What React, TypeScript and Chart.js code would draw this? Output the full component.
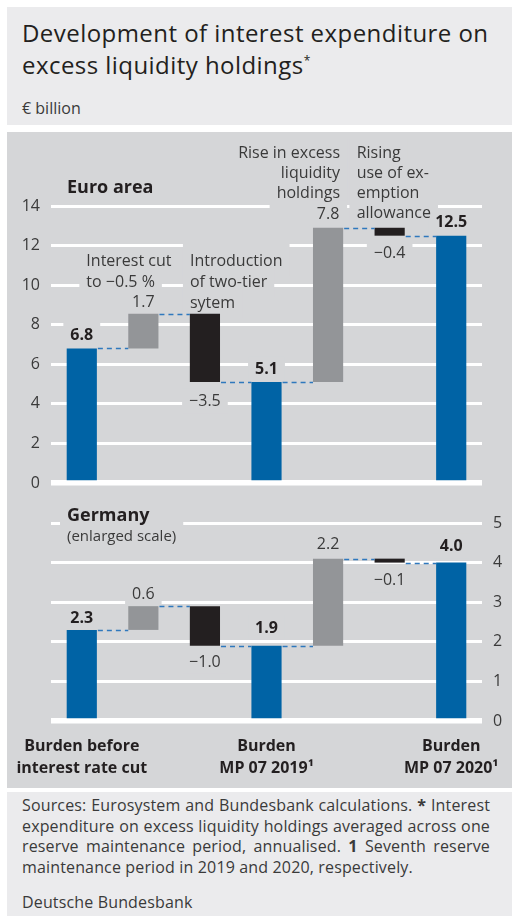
import React, { useEffect, useRef } from 'react';
import { Chart, registerables } from 'chart.js';

Chart.register(...registerables);

// ---------- data ----------
const categories: (string | string[])[] = [
  ['Burden before', 'interest rate cut'],
  '',
  '',
  ['Burden', 'MP 07 2019¹'],
  '',
  '',
  ['Burden', 'MP 07 2020¹'],
];
const barKinds = ['total', 'increase', 'decrease', 'total', 'increase', 'decrease', 'total'];

const euroStart = [0, 6.8, 8.55, 0, 5.1, 12.9, 0];
const euroEnd = [6.8, 8.55, 5.1, 5.1, 12.9, 12.5, 12.5];
const euroLabels = ['6.8', '1.7', '−3.5', '5.1', '7.8', '−0.4', '12.5'];

const germanyStart = [0, 2.3, 2.9, 0, 1.9, 4.1, 0];
const germanyEnd = [2.3, 2.9, 1.9, 1.9, 4.1, 4.0, 4.0];
const germanyLabels = ['2.3', '0.6', '−1.0', '1.9', '2.2', '−0.1', '4.0'];

const euroTickMax = 14;
const euroTickStep = 2;
const germanyTickMax = 5;
const germanyTickStep = 1;

// ---------- style ----------
const FONT = '"Open Sans", "Noto Sans", sans-serif';
const PANEL = '#d5d6d8';
const LIGHT = '#ebebed';
const BLUE = '#0063a5';
const GREY = '#939598';
const BLACK = '#231f20';
const DASH = '#2f78bd';
const TEXT = '#231f20';
const TEXT2 = '#3a3a3a';

const kindColor = (k: string) => (k === 'total' ? BLUE : k === 'increase' ? GREY : BLACK);

type Annot = {
  lines: string[];
  anchor: number | null; // category index or null = chart left
  dx: number;
  dy: number; // first line centre relative to chart top
  lh: number;
  align: 'left' | 'right';
  font: string;
  color: string;
  boxA?: number[];
};

const euroAnnots: Annot[] = [
  { lines: ['Euro area'], anchor: null, dx: 16, dy: -19, lh: 20, align: 'left', font: `bold 18px ${FONT}`, color: TEXT },
  { lines: ['Interest cut', 'to −0.5 %'], anchor: 1, dx: -57, dy: 54, lh: 21, align: 'left', font: `16px ${FONT}`, color: TEXT2 },
  { lines: ['Introduction', 'of two-tier', 'sytem'], anchor: 2, dx: -15, dy: 54, lh: 21, align: 'left', font: `16px ${FONT}`, color: TEXT2, boxA: [17, 13, 13] },
  { lines: ['Rise in excess', 'liquidity', 'holdings'], anchor: 4, dx: 12, dy: -54, lh: 20, align: 'right', font: `16px ${FONT}`, color: TEXT2 },
  { lines: ['Rising', 'use of ex-', 'emption', 'allowance'], anchor: 5, dx: -33, dy: -54, lh: 20, align: 'left', font: `16px ${FONT}`, color: TEXT2 },
];

const germanyAnnots: Annot[] = [
  { lines: ['Germany'], anchor: null, dx: 16, dy: -8, lh: 20, align: 'left', font: `bold 18px ${FONT}`, color: TEXT },
  { lines: ['(enlarged scale)'], anchor: null, dx: 16, dy: 13, lh: 20, align: 'left', font: `15px ${FONT}`, color: TEXT2, boxA: [15] },
];

type TextItem = { text: string; x: number; c: number; align: string; font: string; size: number; color: string; a: number; b: number };

const decorPlugin = {
  id: 'decor',
  beforeDatasetsDraw(chart: any, _args: any, opts: any) {
    const ctx: CanvasRenderingContext2D = chart.ctx;
    const area = chart.chartArea;
    const xs = chart.scales.x;
    const ys = chart.scales.y;
    const meta = chart.getDatasetMeta(0);
    const items: TextItem[] = [];
    (opts.annotations as Annot[]).forEach((an) => {
      const bx = an.anchor === null ? area.left : xs.getPixelForValue(an.anchor);
      const size = parseFloat(an.font.replace('bold ', ''));
      an.lines.forEach((ln, j) => {
        const a = an.boxA && an.boxA[j] !== undefined ? an.boxA[j] : 13;
        items.push({ text: ln, x: bx + an.dx, c: area.top + an.dy + j * an.lh, align: an.align, font: an.font, size, color: an.color, a, b: 16 });
      });
    });
    (opts.labels as string[]).forEach((t, i) => {
      const el = meta.data[i];
      const yEnd = ys.getPixelForValue(opts.ends[i]);
      const kind = barKinds[i];
      const gap = opts.gaps[i];
      const c = kind === 'decrease' ? yEnd + gap : yEnd - gap;
      const bold = kind === 'total';
      items.push({ text: t, x: el.x, c, align: 'center', font: `${bold ? 'bold ' : ''}16px ${FONT}`, size: 16, color: bold ? TEXT : TEXT2, a: 12, b: 13 });
    });
    ctx.save();
    ctx.textBaseline = 'alphabetic';
    ctx.textAlign = 'left';
    const lefts = items.map((it) => {
      ctx.font = it.font;
      const w = ctx.measureText(it.text).width;
      const left = it.align === 'left' ? it.x : it.align === 'right' ? it.x - w : it.x - w / 2;
      return { left, w };
    });
    ctx.fillStyle = PANEL;
    items.forEach((it, k) => {
      ctx.fillRect(lefts[k].left - 7, it.c - it.a, lefts[k].w + 14, it.a + it.b);
    });
    items.forEach((it, k) => {
      ctx.font = it.font;
      ctx.fillStyle = it.color;
      ctx.fillText(it.text, lefts[k].left, it.c + it.size * 0.36);
    });
    ctx.restore();
  },
  afterDatasetsDraw(chart: any, _args: any, opts: any) {
    const ctx: CanvasRenderingContext2D = chart.ctx;
    const ys = chart.scales.y;
    const meta = chart.getDatasetMeta(0);
    ctx.save();
    ctx.strokeStyle = DASH;
    ctx.lineWidth = 1.5;
    ctx.setLineDash([5, 4]);
    for (let i = 0; i < meta.data.length - 1; i++) {
      const a = meta.data[i];
      const b = meta.data[i + 1];
      const y = Math.round(ys.getPixelForValue(opts.ends[i])) + 0.5;
      ctx.beginPath();
      ctx.moveTo(a.x + a.width / 2 + 1, y);
      ctx.lineTo(b.x - b.width / 2, y);
      ctx.stroke();
    }
    ctx.restore();
  },
};

function makeConfig(
  starts: number[],
  ends: number[],
  labels: string[],
  gaps: number[],
  annots: Annot[],
  max: number,
  step: number,
  side: 'left' | 'right',
  showX: boolean,
  padding: any,
  axisW: number,
  xAxisH: number
): any {
  return {
    type: 'bar',
    data: {
      labels: categories,
      datasets: [
        {
          data: starts.map((s, i) => [s, ends[i]]),
          backgroundColor: barKinds.map(kindColor),
          borderWidth: 0,
          barPercentage: 0.49,
          categoryPercentage: 1,
        },
      ],
    },
    options: {
      responsive: false,
      animation: false,
      devicePixelRatio: 1,
      layout: { padding },
      plugins: {
        legend: { display: false },
        tooltip: { enabled: false },
        decor: { labels, ends, gaps, annotations: annots },
      },
      scales: {
        x: {
          display: showX,
          grid: { display: false, drawTicks: false },
          border: { display: false },
          ticks: {
            autoSkip: false,
            maxRotation: 0,
            minRotation: 0,
            padding: 14,
            color: TEXT,
            font: { family: FONT, size: 16, weight: 'bold', lineHeight: 1.4 },
          },
          afterFit: (s: any) => {
            s.height = xAxisH;
            s.paddingLeft = 0;
            s.paddingRight = 0;
          },
        },
        y: {
          position: side,
          min: 0,
          max,
          border: { display: false },
          grid: {
            color: '#ffffff',
            drawTicks: false,
            lineWidth: (c: any) => (c.tick && c.tick.value === 0 ? 5.5 : 3),
          },
          ticks: {
            stepSize: step,
            padding: 11,
            color: TEXT2,
            font: { family: FONT, size: 16 },
          },
          afterFit: (s: any) => {
            s.width = axisW;
            s.paddingTop = 0;
            s.paddingBottom = 0;
          },
        },
      },
    },
    plugins: [decorPlugin],
  };
}

function WaterfallCanvas(props: { config: any; left: number; top: number; width: number; height: number }) {
  const ref = useRef<HTMLCanvasElement | null>(null);
  useEffect(() => {
    if (!ref.current) return;
    const chart = new Chart(ref.current, props.config);
    return () => chart.destroy();
  }, []);
  return (
    <canvas
      ref={ref}
      width={props.width}
      height={props.height}
      style={{ position: 'absolute', left: props.left, top: props.top, width: props.width, height: props.height }}
    />
  );
}

const euroGaps = [14, 13, 18, 14, 15, 17, 14];
const germanyGaps = [13, 13, 15, 19, 15, 17, 17];

export default function App() {
  const euroConfig = makeConfig(
    euroStart, euroEnd, euroLabels, euroGaps, euroAnnots, euroTickMax, euroTickStep,
    'left', false, { left: 0, right: 29, top: 74, bottom: 19 }, 44, 0
  );
  const germanyConfig = makeConfig(
    germanyStart, germanyEnd, germanyLabels, germanyGaps, germanyAnnots, germanyTickMax, germanyTickStep,
    'right', true, { left: 44, right: 0, top: 28, bottom: 0 }, 29, 64
  );
  const footLines = [
    <>Sources: Eurosystem and Bundesbank calculations. <b>*</b> Interest</>,
    <>expenditure on excess liquidity holdings averaged across one</>,
    <>reserve maintenance period, annualised. <b>1</b> Seventh reserve</>,
  ];
  return (
    <div style={{ position: 'absolute', left: 0, top: 0, width: 512, height: 916, background: '#fff', fontFamily: FONT, color: TEXT, overflow: 'hidden' }}>
      <div style={{ position: 'absolute', left: 7, top: 7, width: 505, height: 118, background: LIGHT }}>
        <div style={{ position: 'absolute', left: 15, top: 10, fontSize: 24, letterSpacing: '0.45px', lineHeight: '32px', color: TEXT, whiteSpace: 'nowrap' }}>
          Development of interest expenditure on
          <br />
          excess liquidity holdings<sup style={{ fontSize: 12, verticalAlign: 'top', position: 'relative', top: -4 }}>*</sup>
        </div>
        <div style={{ position: 'absolute', left: 15, top: 90, fontSize: 16, lineHeight: '22px', color: TEXT2 }}>€ billion</div>
      </div>
      <div style={{ position: 'absolute', left: 7, top: 132, width: 505, height: 656, background: PANEL }} />
      <WaterfallCanvas config={euroConfig} left={7} top={132} width={504} height={370} />
      <WaterfallCanvas config={germanyConfig} left={7} top={495} width={504} height={290} />
      <div style={{ position: 'absolute', left: 7, top: 792, width: 505, height: 124, background: LIGHT, fontSize: 16, letterSpacing: '0.15px', lineHeight: '20.5px', color: TEXT2 }}>
        <div style={{ position: 'absolute', left: 15, top: 3, width: 468 }}>
          {footLines.map((l, i) => (
            <div key={i} style={{ textAlign: 'justify', textAlignLast: 'justify' as any, whiteSpace: 'nowrap' }}>{l}</div>
          ))}
          <div>maintenance period in 2019 and 2020, respectively.</div>
          <div style={{ marginTop: 15 }}>Deutsche Bundesbank</div>
        </div>
      </div>
    </div>
  );
}
